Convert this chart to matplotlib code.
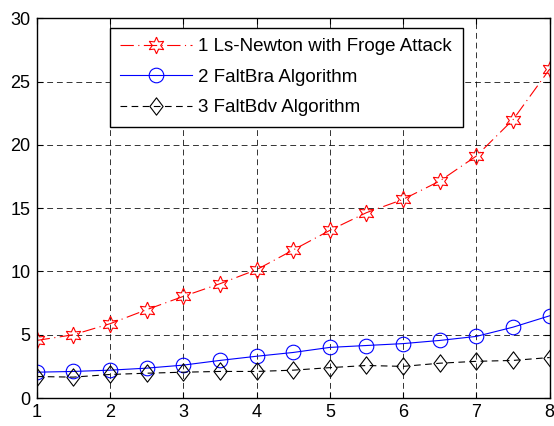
import matplotlib
matplotlib.use("Agg")
import matplotlib.pyplot as plt
from matplotlib.path import Path

plt.rcParams['font.family'] = ['Liberation Sans', 'DejaVu Sans']

x = [1, 1.5, 2, 2.5, 3, 3.5, 4, 4.5, 5, 5.5, 6, 6.5, 7, 7.5, 8]
ls_newton = [4.55, 5.0, 5.87, 6.98, 8.03, 9.03, 10.14, 11.7, 13.25, 14.65, 15.7, 17.15, 19.13, 22.0, 26.0]
faltbra = [2.04, 2.1, 2.2, 2.36, 2.6, 2.97, 3.3, 3.6, 4.0, 4.15, 4.3, 4.55, 4.87, 5.6, 6.5]
faltbdv = [1.7, 1.65, 1.86, 1.96, 2.04, 2.1, 2.1, 2.2, 2.4, 2.57, 2.5, 2.75, 2.9, 2.97, 3.2]
labels = ['1 Ls-Newton with Froge Attack', '2 FaltBra Algorithm', '3 FaltBdv Algorithm']
xticks = [1, 2, 3, 4, 5, 6, 7, 8]
yticks = [0, 5, 10, 15, 20, 25, 30]

diamond = Path([(0, 1), (0.76, 0), (0, -1), (-0.76, 0), (0, 1)],
               [Path.MOVETO, Path.LINETO, Path.LINETO, Path.LINETO, Path.CLOSEPOLY])

fig = plt.figure(figsize=(5.54, 4.26), dpi=100)
ax = fig.add_axes([0.0662, 0.0657, 0.926, 0.891])

ax.plot(x, ls_newton, color='red', lw=0.8, linestyle=(0, (12, 4, 1, 4)),
        marker=(6, 1, 0), ms=12, mfc='none', mec='red', mew=0.8, label=labels[0])
ax.plot(x, faltbra, color='blue', lw=0.8, linestyle='-',
        marker='o', ms=10.5, mfc='none', mec='blue', mew=0.8, label=labels[1])
ax.plot(x, faltbdv, color='black', lw=0.8, linestyle=(0, (6, 4)),
        marker=diamond, ms=12.5, mfc='none', mec='black', mew=0.8, label=labels[2])

ax.set_xlim(1, 8)
ax.set_ylim(0, 30)
ax.set_xticks(xticks)
ax.set_yticks(yticks)
ax.tick_params(direction='in', top=True, right=True, length=4, width=0.8,
               labelsize=13, pad=4.5)
ax.grid(True, color='black', linestyle=(0, (6, 4)), lw=0.7, alpha=0.8)
for s in ax.spines.values():
    s.set_linewidth(1.0)

leg = ax.legend(loc='upper left', bbox_to_anchor=(110 / 554, 1 - 27.7 / 426),
                bbox_transform=fig.transFigure, fontsize=13.5, frameon=True,
                fancybox=False, framealpha=1, edgecolor='black', numpoints=1,
                handlelength=3.8, handletextpad=0.37, borderpad=0.55,
                labelspacing=0.72, borderaxespad=0)
leg.get_frame().set_linewidth(1.0)

fig.savefig('out.png', dpi=100)
